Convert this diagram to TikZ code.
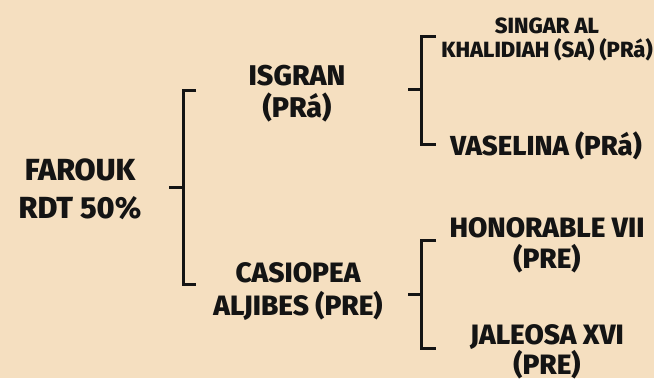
\documentclass[tikz,border=0pt]{standalone}
\usepackage{fontspec}
\setmainfont{Fira Sans}[BoldFont={Fira Sans ExtraBold}]
\definecolor{bg}{RGB}{245,223,192}
\definecolor{ink}{RGB}{20,20,20}
\tikzset{
  lbl/.style={font=\bfseries, text=ink, align=center, inner sep=0pt},
  big/.style={lbl, font=\fontsize{30.5}{38}\selectfont\bfseries},
  mid/.style={lbl, font=\fontsize{28.5}{32}\selectfont\bfseries},
  sml/.style={lbl, font=\fontsize{28}{31}\selectfont\bfseries},
  tiny/.style={lbl, font=\fontsize{22}{24}\selectfont\bfseries},
  brk/.style={draw=ink, line width=3pt, line cap=butt, line join=miter},
}
\begin{document}
\begin{tikzpicture}[x=1pt,y=-1pt]
\fill[bg] (0,0) rectangle (654,378);
\useasboundingbox (0,0) rectangle (654,378);
% labels
\node[big] (farouk) at (80,189) {FAROUK\\RDT 50\%};
\node[mid] (isgran) at (297,94) {ISGRAN\\(PRá)};
\node[sml, font=\fontsize{28}{33}\selectfont\bfseries] (casio) at (298,292) {CASIOPEA\\ALJIBES (PRE)};
\node[tiny] (singar) at (547,39) {SINGAR AL\\KHALIDIAH (SA) (PRá)};
\node[sml, font=\fontsize{27.5}{31}\selectfont\bfseries, anchor=base] (vase) at (546,155) {VASELINA (PRá)};
\node[sml] (honor) at (547,245) {HONORABLE VII\\(PRE)};
\node[sml, font=\fontsize{28}{30}\selectfont\bfseries] (jale) at (547,352) {JALEOSA XVI\\(PRE)};
% bracket 1
\coordinate (f1) at (169,187);
\coordinate (j1) at (183,187);
\coordinate (a1) at (196,90);
\coordinate (b1) at (196,284);
\draw[brk] (f1) -- (j1);
\draw[brk] (a1) -| (j1) |- (b1);
% bracket 2
\coordinate (f2) at (408,89);
\coordinate (j2) at (421,89);
\coordinate (a2) at (436,36);
\coordinate (b2) at (436,144);
\draw[brk] (f2) -- (j2);
\draw[brk] (a2) -| (j2) |- (b2);
% bracket 3
\coordinate (f3) at (408,294);
\coordinate (j3) at (421,294);
\coordinate (a3) at (436,240);
\coordinate (b3) at (436,348);
\draw[brk] (f3) -- (j3);
\draw[brk] (a3) -| (j3) |- (b3);
\end{tikzpicture}
\end{document}
